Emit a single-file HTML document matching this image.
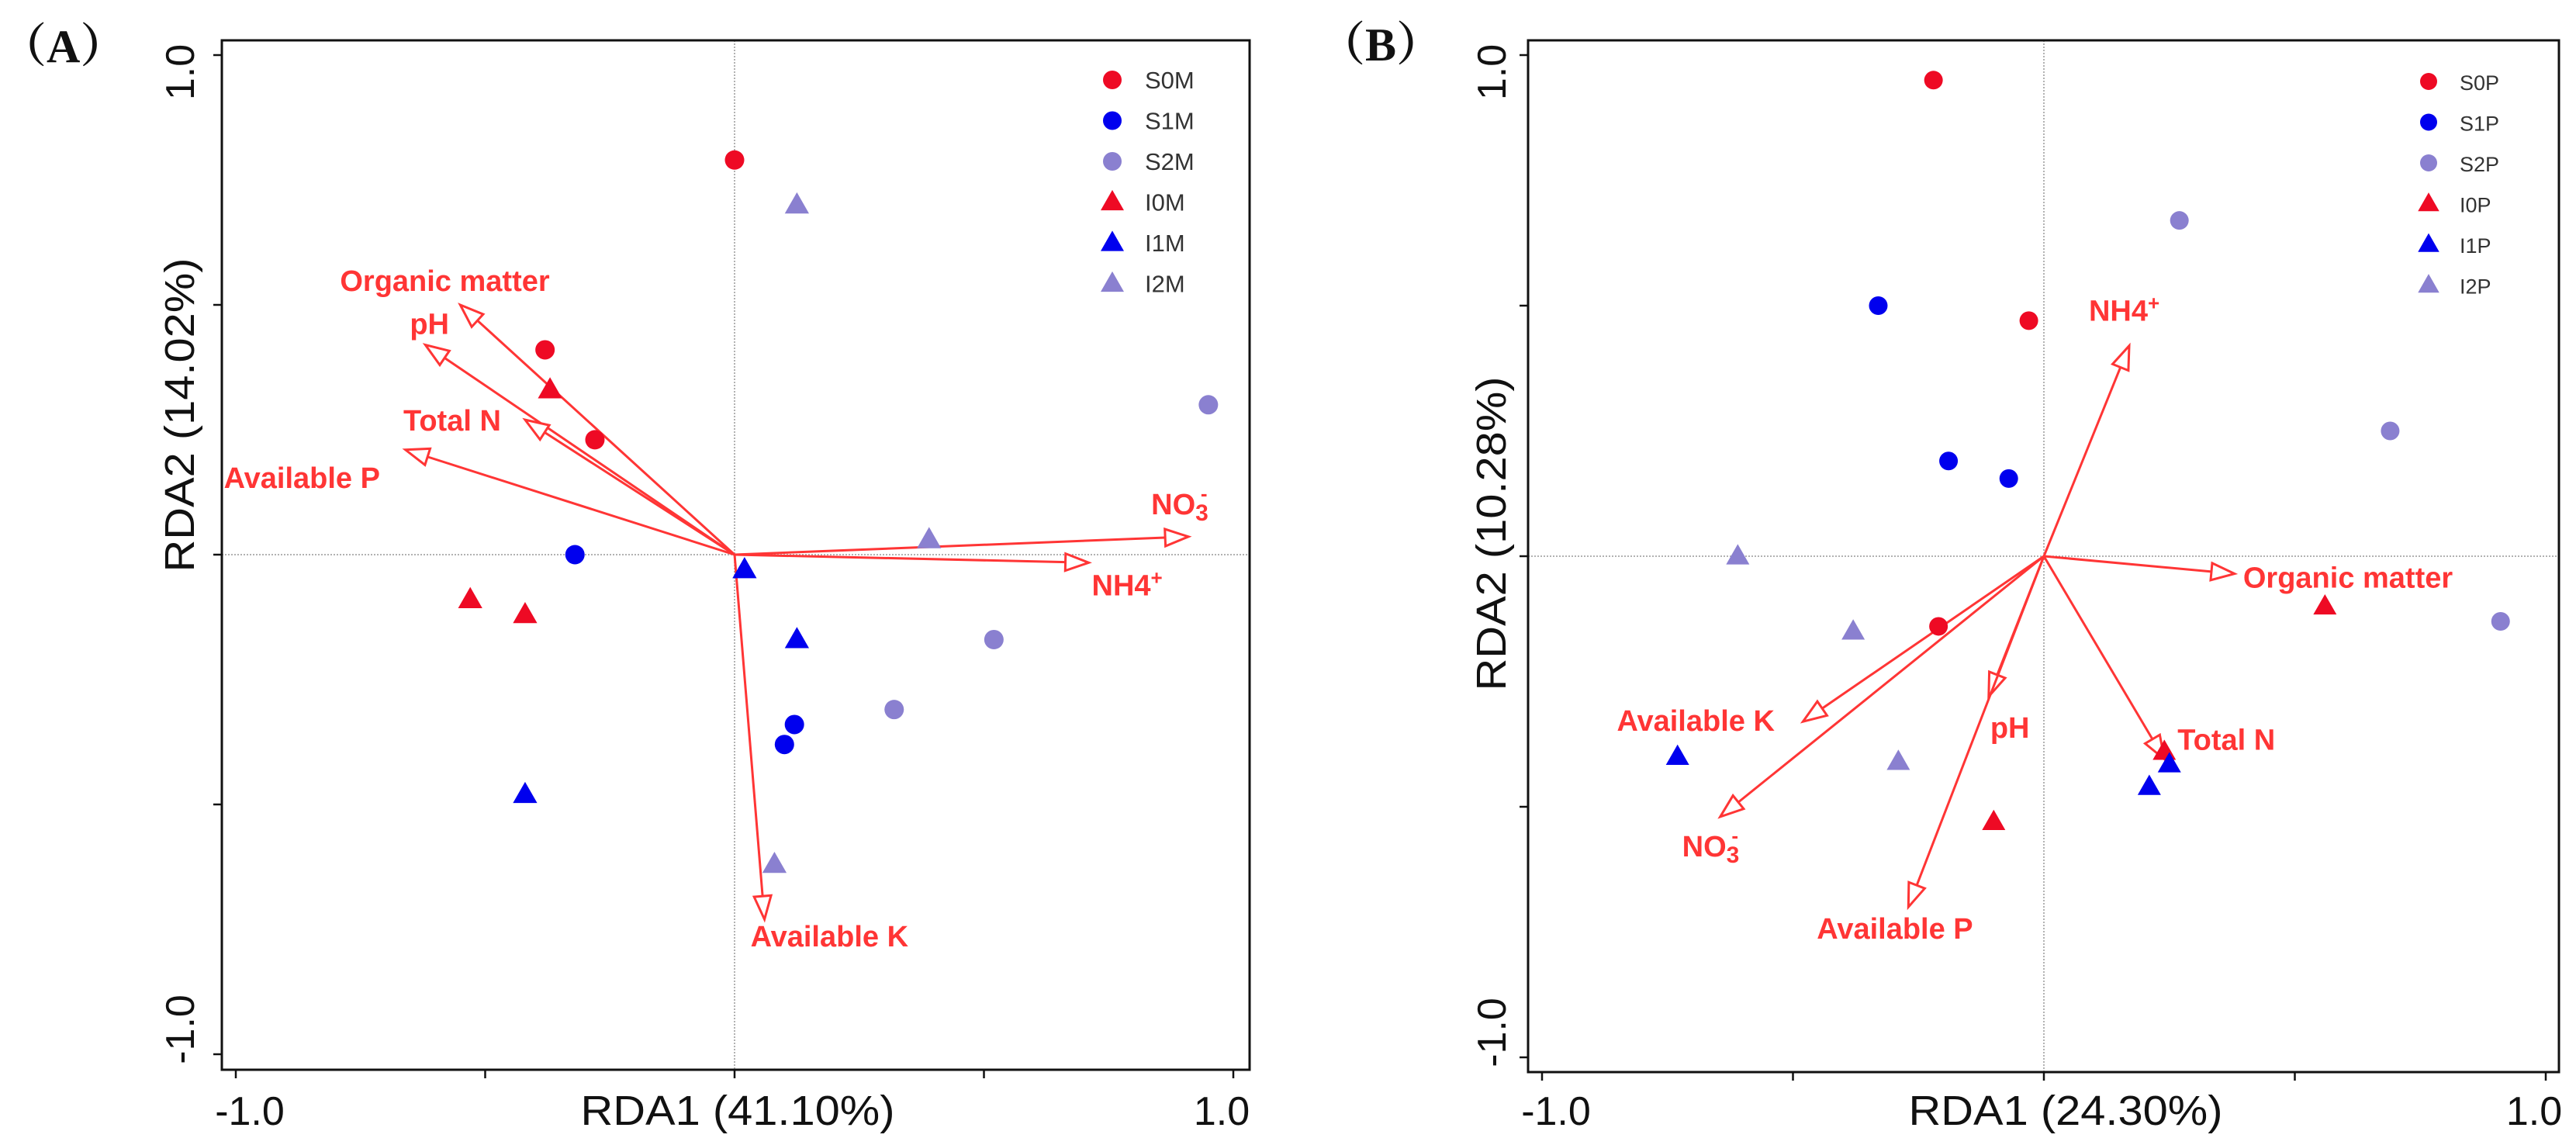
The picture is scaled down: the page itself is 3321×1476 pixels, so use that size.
<!DOCTYPE html>
<html><head><meta charset="utf-8"><style>
html,body{margin:0;padding:0;background:#fff;}
svg{display:block;}
text{font-family:"Liberation Sans",sans-serif;}
</style></head>
<body>
<svg id="chart" width="3321" height="1476" viewBox="0 0 3321 1476" xmlns="http://www.w3.org/2000/svg">
<rect x="0" y="0" width="3321" height="1476" fill="#fff"/>
</svg>
<script>
// ---------- Panel A data ----------
const aGroupNames = ['S0M','S1M','S2M','I0M','I1M','I2M'];
const aPointGroup = ['S0M','S0M','S0M','S1M','S1M','S1M','S2M','S2M','S2M','I0M','I0M','I0M','I1M','I1M','I1M','I2M','I2M','I2M'];
const aPointX = [0.0,-0.38,-0.28,-0.32,0.12,0.10,0.95,0.52,0.32,-0.37,-0.53,-0.42,0.02,0.125,-0.42,0.125,0.39,0.08];
const aPointY = [0.79,0.41,0.23,0.0,-0.34,-0.38,0.30,-0.17,-0.31,0.33,-0.09,-0.12,-0.03,-0.17,-0.48,0.70,0.03,-0.62];
const aVarNames = ['Organic matter','pH','Total N','Available P','NO3-','NH4+','Available K'];
const aVarX = [-0.55,-0.62,-0.42,-0.66,0.91,0.71,0.06];
const aVarY = [0.50,0.42,0.27,0.21,0.036,-0.016,-0.73];
const aLabelOffset = [[-155,-18],[-20,-14],[-157,14],[-234,49],[-48,-29],[4,42],[-18,35]];
const aAxisTitleX = 'RDA1 (41.10%)';
const aAxisTitleY = 'RDA2 (14.02%)';

// ---------- Panel B data ----------
const bGroupNames = ['S0P','S1P','S2P','I0P','I1P','I2P'];
const bPointGroup = ['S0P','S0P','S0P','S1P','S1P','S1P','S2P','S2P','S2P','I0P','I0P','I0P','I1P','I1P','I1P','I2P','I2P','I2P'];
const bPointX = [-0.22,-0.03,-0.21,-0.33,-0.19,-0.07,0.27,0.69,0.91,0.56,0.24,-0.10,-0.73,0.25,0.21,-0.61,-0.38,-0.29];
const bPointY = [0.95,0.47,-0.14,0.50,0.19,0.155,0.67,0.25,-0.13,-0.10,-0.39,-0.53,-0.40,-0.415,-0.46,0.0,-0.15,-0.41];
const bVarNames = ['NH4+','Organic matter','Total N','pH','Available P','Available K','NO3-'];
const bVarX = [0.17,0.38,0.24,-0.11,-0.27,-0.48,-0.645];
const bVarY = [0.42,-0.035,-0.405,-0.28,-0.70,-0.33,-0.52];
const bLabelOffset = [[-52,-32],[11,18],[17,-12],[2,53],[-118,41],[-240,12],[-49,51]];
const bAxisTitleX = 'RDA1 (24.30%)';
const bAxisTitleY = 'RDA2 (10.28%)';

const tickValues = [-1,-0.5,0,0.5,1];
const tickLabels = ['-1.0','1.0'];

const NS = 'http://www.w3.org/2000/svg';
const svg = document.getElementById('chart');
const COLORS = {0:'#EE0A24',1:'#0000EE',2:'#8A80D0'};
const ARROW = '#FF3535';

function mk(tag, attrs, parent) {
  const e = document.createElementNS(NS, tag);
  for (const k in attrs) e.setAttribute(k, attrs[k]);
  (parent || svg).appendChild(e);
  return e;
}

function drawPanel(P) {
  const g = mk('g', {});
  
  
  const sx = v => P.ox + v * P.ux;
  const sy = v => P.oy - v * P.uy;
  const zx = mk('line', {x1:sx(0), y1:P.top, x2:sx(0), y2:P.bottom, stroke:'#999', 'stroke-width':1.5, 'stroke-dasharray':'2,2'}, g);
  
  
  const zy = mk('line', {x1:P.left, y1:sy(0), x2:P.right, y2:sy(0), stroke:'#999', 'stroke-width':1.5, 'stroke-dasharray':'2,2'}, g);
  
  
  const box = mk('rect', {x:P.left, y:P.top, width:P.right-P.left, height:P.bottom-P.top, fill:'none', stroke:'#111', 'stroke-width':3}, g);
  
  
  tickValues.forEach(v => {
    const tx = mk('line', {x1:sx(v), y1:P.bottom, x2:sx(v), y2:P.bottom+11, stroke:'#111', 'stroke-width':2.5}, g);
    
    
    const ty = mk('line', {x1:P.left, y1:sy(v), x2:P.left-11, y2:sy(v), stroke:'#111', 'stroke-width':2.5}, g);
    
    
  });
  const xl0 = mk('text', {x:sx(-1)+18, y:P.xTickY, 'font-size':52, 'text-anchor':'middle', fill:'#111'}, g);
  xl0.textContent = tickLabels[0];
  
  
  const xl1 = mk('text', {x:sx(1)-15, y:P.xTickY, 'font-size':52, 'text-anchor':'middle', fill:'#111'}, g);
  xl1.textContent = tickLabels[1];
  
  
  const yl1 = mk('text', {x:0, y:0, 'font-size':52, 'text-anchor':'middle', fill:'#111', transform:'translate('+(P.yTickX)+','+(sy(1)+22)+') rotate(-90)'}, g);
  yl1.textContent = tickLabels[1];
  
  
  const yl0 = mk('text', {x:0, y:0, 'font-size':52, 'text-anchor':'middle', fill:'#111', transform:'translate('+(P.yTickX)+','+(sy(-1)-32)+') rotate(-90)'}, g);
  yl0.textContent = tickLabels[0];
  
  
  const xt = mk('text', {x:sx(0)+P.xTitleDx, y:P.xTickY, 'font-size':54, 'text-anchor':'middle', fill:'#111', textLength:405, lengthAdjust:'spacingAndGlyphs'}, g);
  xt.textContent = P.titleX;
  
  
  const yt = mk('text', {x:0, y:0, 'font-size':54, 'text-anchor':'middle', fill:'#111', textLength:405, lengthAdjust:'spacingAndGlyphs', transform:'translate('+(P.yTickX)+','+P.yTitleY+') rotate(-90)'}, g);
  yt.textContent = P.titleY;
  
  
  const pl = mk('text', {x:P.letterX, y:P.letterY, 'font-size':60, 'font-weight':'bold', fill:'#111', style:'font-family:"Liberation Serif","Noto Serif CJK SC",serif'}, g);
  pl.textContent = P.letter;
  
  

  P.varNames.forEach((name, i) => {
    const x0 = sx(0), y0 = sy(0), x1 = sx(P.varX[i]), y1 = sy(P.varY[i]);
    const dx = x1-x0, dy = y1-y0, L = Math.hypot(dx,dy);
    const ux = dx/L, uy = dy/L, hl = 30, hw = 11;
    const bx = x1 - ux*hl, by = y1 - uy*hl;
    const ln = mk('line', {x1:x0, y1:y0, x2:bx, y2:by, stroke:ARROW, 'stroke-width':3}, g);
    
    
    const pts = [[x1,y1],[bx - uy*hw, by + ux*hw],[bx + uy*hw, by - ux*hw]].map(p=>p.join(',')).join(' ');
    const hd = mk('polygon', {points:pts, fill:'#fff', stroke:ARROW, 'stroke-width':3}, g);
    
    
    const off = P.labelOffset[i];
    const t = mk('text', {x:x1+off[0], y:y1+off[1], 'font-size':38, 'font-weight':'bold', fill:ARROW}, g);
    
    
    if (name === 'NO3-') {
      t.appendChild(document.createTextNode('NO'));
      const s1 = mk('tspan', {dy:8, 'font-size':30}, t); s1.textContent = '3';
      const s2 = mk('tspan', {dy:-26, 'font-size':26, dx:-10}, t); s2.textContent = '-';
    } else if (name === 'NH4+') {
      t.appendChild(document.createTextNode('NH4'));
      const s2 = mk('tspan', {dy:-14, 'font-size':26}, t); s2.textContent = '+';
    } else {
      t.textContent = name;
    }
  });

  const drawMarker = (gi, x, y, r, parent) => {
    const col = COLORS[gi % 3];
    if (gi < 3) {
      return mk('circle', {cx:x, cy:y, r:r, fill:col}, parent);
    }
    const h = r*2.1, w = r*2.5;
    return mk('polygon', {points:[[x, y-h*0.62],[x-w/2, y+h*0.42],[x+w/2, y+h*0.42]].map(p=>p.join(',')).join(' '), fill:col}, parent);
  };
  P.pointGroup.forEach((gname, i) => {
    const gi = P.groupNames.indexOf(gname);
    const m = drawMarker(gi, sx(P.pointX[i]), sy(P.pointY[i]), P.r, g);
    
    
  });

  const lg = mk('g', {}, g);
  
  
  P.groupNames.forEach((gname, gi) => {
    const y = P.legY + gi * P.legStep;
    const m = drawMarker(gi, P.legX, y, P.legR, lg);
    
    
    const t = mk('text', {x:P.legX+P.legTextDx, y:y+11, 'font-size':P.legFont, fill:'#333'}, lg);
    t.textContent = gname;
    
    
  });
}

drawPanel({id:'panel-a', letter:'（A）', letterX:0, letterY:80,
  left:286, right:1611, top:52, bottom:1379, ox:947, oy:715, ux:643, uy:644,
  xTickY:1450, yTickX:250, yTitleY:535, xTitleDx:4,
  groupNames:aGroupNames, pointGroup:aPointGroup, pointX:aPointX, pointY:aPointY,
  varNames:aVarNames, varX:aVarX, varY:aVarY, labelOffset:aLabelOffset,
  titleX:aAxisTitleX, titleY:aAxisTitleY, r:12.5,
  legX:1434, legY:103, legStep:52.5, legR:12, legTextDx:42, legFont:31});

drawPanel({id:'panel-b', letter:'（B）', letterX:1700, letterY:78,
  left:1970, right:3299, top:52, bottom:1382, ox:2635, oy:717, ux:647, uy:646,
  xTickY:1450, yTickX:1941, yTitleY:688, xTitleDx:28,
  groupNames:bGroupNames, pointGroup:bPointGroup, pointX:bPointX, pointY:bPointY,
  varNames:bVarNames, varX:bVarX, varY:bVarY, labelOffset:bLabelOffset,
  titleX:bAxisTitleX, titleY:bAxisTitleY, r:12,
  legX:3131, legY:105, legStep:52.5, legR:11, legTextDx:40, legFont:27});
</script>
</body></html>
